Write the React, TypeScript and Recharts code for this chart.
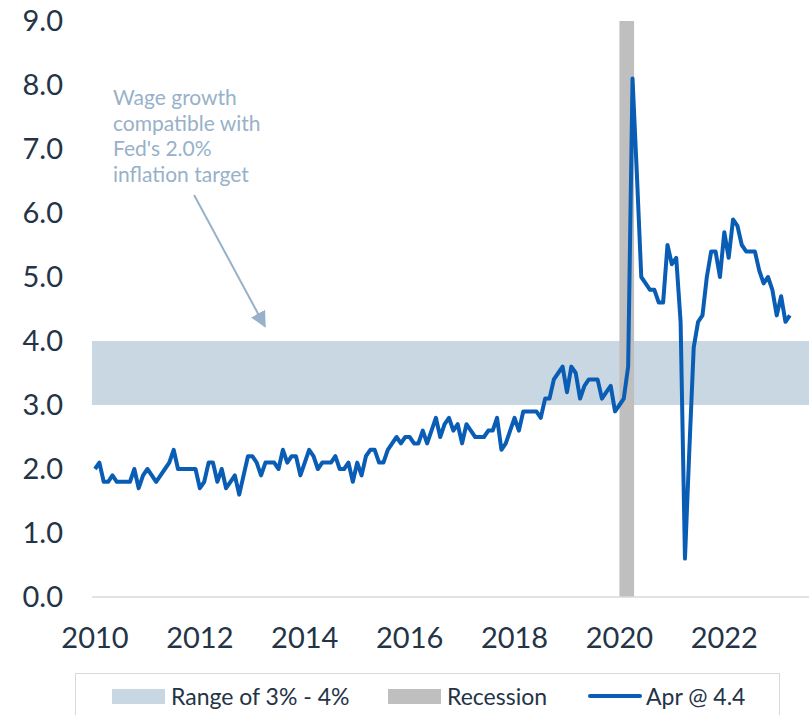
import {
  ComposedChart,
  Line,
  XAxis,
  YAxis,
  ReferenceArea,
  ReferenceLine,
  Legend,
} from "recharts";

const FONT = "Lato, 'Open Sans', sans-serif";
const INK = "#243447";
const NOTE = "#97b1c9";

// avg hourly earnings, y/y %, monthly from Jan 2010 to Apr 2023
const START_YEAR = 2010;
const wageGrowth = [
  // 2010
  2.0, 2.1, 1.8, 1.8, 1.9, 1.8, 1.8, 1.8, 1.8, 2.0, 1.7, 1.9,
  // 2011
  2.0, 1.9, 1.8, 1.9, 2.0, 2.1, 2.3, 2.0, 2.0, 2.0, 2.0, 2.0,
  // 2012
  1.7, 1.8, 2.1, 2.1, 1.8, 2.0, 1.7, 1.8, 1.9, 1.6, 1.9, 2.2,
  // 2013
  2.2, 2.1, 1.9, 2.1, 2.1, 2.1, 2.0, 2.3, 2.1, 2.2, 2.2, 1.9,
  // 2014
  2.1, 2.3, 2.2, 2.0, 2.1, 2.1, 2.1, 2.2, 2.0, 2.0, 2.1, 1.8,
  // 2015
  2.1, 1.9, 2.2, 2.3, 2.3, 2.1, 2.1, 2.3, 2.4, 2.5, 2.4, 2.5,
  // 2016
  2.5, 2.4, 2.4, 2.6, 2.4, 2.6, 2.8, 2.5, 2.7, 2.8, 2.6, 2.7,
  // 2017
  2.4, 2.7, 2.6, 2.5, 2.5, 2.5, 2.6, 2.6, 2.8, 2.3, 2.4, 2.6,
  // 2018
  2.8, 2.6, 2.9, 2.9, 2.9, 2.9, 2.8, 3.1, 3.1, 3.4, 3.5, 3.6,
  // 2019
  3.2, 3.6, 3.5, 3.1, 3.3, 3.4, 3.4, 3.4, 3.1, 3.2, 3.3, 2.9,
  // 2020
  3.0, 3.1, 3.6, 8.1, 6.6, 5.0, 4.9, 4.8, 4.8, 4.6, 4.6, 5.5,
  // 2021
  5.2, 5.3, 4.3, 0.6, 2.3, 3.9, 4.3, 4.4, 5.0, 5.4, 5.4, 5.0,
  // 2022
  5.7, 5.3, 5.9, 5.8, 5.5, 5.4, 5.4, 5.4, 5.1, 4.9, 5.0, 4.8,
  // 2023
  4.4, 4.7, 4.3, 4.4,
];

const yearTicks = [2010, 2012, 2014, 2016, 2018, 2020, 2022];
const valueTicks = [0, 1, 2, 3, 4, 5, 6, 7, 8, 9];

const targetBand = { low: 3, high: 4 };
const recession = { start: 2020.0, end: 2020.28 };
const arrowFrom = { x: 2011.89, y: 6.28 };
const arrowTo = { x: 2013.24, y: 4.23 };
const noteLines = ["Wage growth", "compatible with", "Fed's 2.0%", "inflation target"];

const data = wageGrowth.map((v, i) => ({ t: START_YEAR + i / 12, v }));

function ArrowShape(props: any) {
  const { x1, y1, x2, y2 } = props;
  return (
    <line
      x1={x1}
      y1={y1}
      x2={x2}
      y2={y2}
      stroke={NOTE}
      strokeWidth={2}
      markerEnd="url(#noteArrow)"
    />
  );
}

function LegendBox() {
  const txt: any = {
    position: "absolute",
    top: 11,
    fontSize: 23,
    lineHeight: "23px",
    color: INK,
    fontFamily: FONT,
    whiteSpace: "nowrap",
  };
  const sw: any = { position: "absolute", top: 15, width: 53, height: 15 };
  return (
    <div
      style={{
        position: "relative",
        boxSizing: "border-box",
        width: 705,
        height: 60,
        border: "1.5px solid #d9d9d9",
        background: "#fff",
      }}
    >
      <span style={{ ...sw, left: 36, background: "#c9d7e2" }} />
      <span style={{ ...txt, left: 95 }}>Range of 3% - 4%</span>
      <span style={{ ...sw, left: 312, background: "#bfbfbf" }} />
      <span style={{ ...txt, left: 371 }}>Recession</span>
      <span
        style={{
          position: "absolute",
          top: 20,
          left: 512,
          width: 54,
          height: 4,
          borderRadius: 2,
          background: "#0a5db5",
        }}
      />
      <span style={{ ...txt, left: 570 }}>Apr @ 4.4</span>
    </div>
  );
}

export default function App() {
  return (
    <div
      style={{
        position: "fixed",
        left: 0,
        top: 0,
        width: 809,
        height: 715,
        overflow: "hidden",
        background: "#fff",
        fontFamily: FONT,
      }}
    >
      <ComposedChart
        width={809}
        height={715}
        data={data}
        margin={{ top: 21, right: 0, bottom: 58, left: 0 }}
      >
        <defs>
          <marker
            id="noteArrow"
            viewBox="0 0 10 10"
            refX="9"
            refY="5"
            markerWidth="16"
            markerHeight="16"
            markerUnits="userSpaceOnUse"
            orient="auto"
          >
            <path d="M0,0 L10,5 L0,10 z" fill={NOTE} />
          </marker>
        </defs>
        <XAxis
          dataKey="t"
          type="number"
          domain={[2009.943, 2023.615]}
          allowDataOverflow
          ticks={yearTicks}
          interval={0}
          tickFormatter={(v) => String(v)}
          axisLine={{ stroke: "#d9d9d9", strokeWidth: 1.5 }}
          tickLine={false}
          tickSize={0}
          tickMargin={30}
          height={60}
          tick={{ fill: INK, fontSize: 29, fontFamily: FONT }}
        />
        <YAxis
          type="number"
          domain={[0, 9]}
          ticks={valueTicks}
          interval={0}
          tickFormatter={(v) => Number(v).toFixed(1)}
          axisLine={false}
          tickLine={false}
          tickSize={0}
          tickMargin={29}
          width={92}
          tick={{ fill: INK, fontSize: 29, fontFamily: FONT }}
        />
        <ReferenceArea
          y1={targetBand.low}
          y2={targetBand.high}
          fill="#c9d7e2"
          fillOpacity={1}
          stroke="none"
        />
        <ReferenceArea
          x1={recession.start}
          x2={recession.end}
          fill="#bfbfbf"
          fillOpacity={1}
          stroke="none"
        />
        <ReferenceLine
          segment={[arrowFrom, arrowTo]}
          shape={ArrowShape}
          ifOverflow="visible"
        />
        <Line
          type="linear"
          dataKey="v"
          stroke="#0a5db5"
          strokeWidth={4}
          strokeLinejoin="round"
          dot={false}
          isAnimationActive={false}
        />
        <Legend
          layout="horizontal"
          verticalAlign="middle"
          align="center"
          wrapperStyle={{ left: 75, top: 673, width: 705, height: 60 }}
          content={() => <LegendBox />}
        />
      </ComposedChart>
      <div
        style={{
          position: "absolute",
          left: 113,
          top: 84,
          color: NOTE,
          fontSize: 21,
          lineHeight: "25.7px",
          fontFamily: FONT,
        }}
      >
        {noteLines.map((l) => (
          <div key={l}>{l}</div>
        ))}
      </div>
    </div>
  );
}
